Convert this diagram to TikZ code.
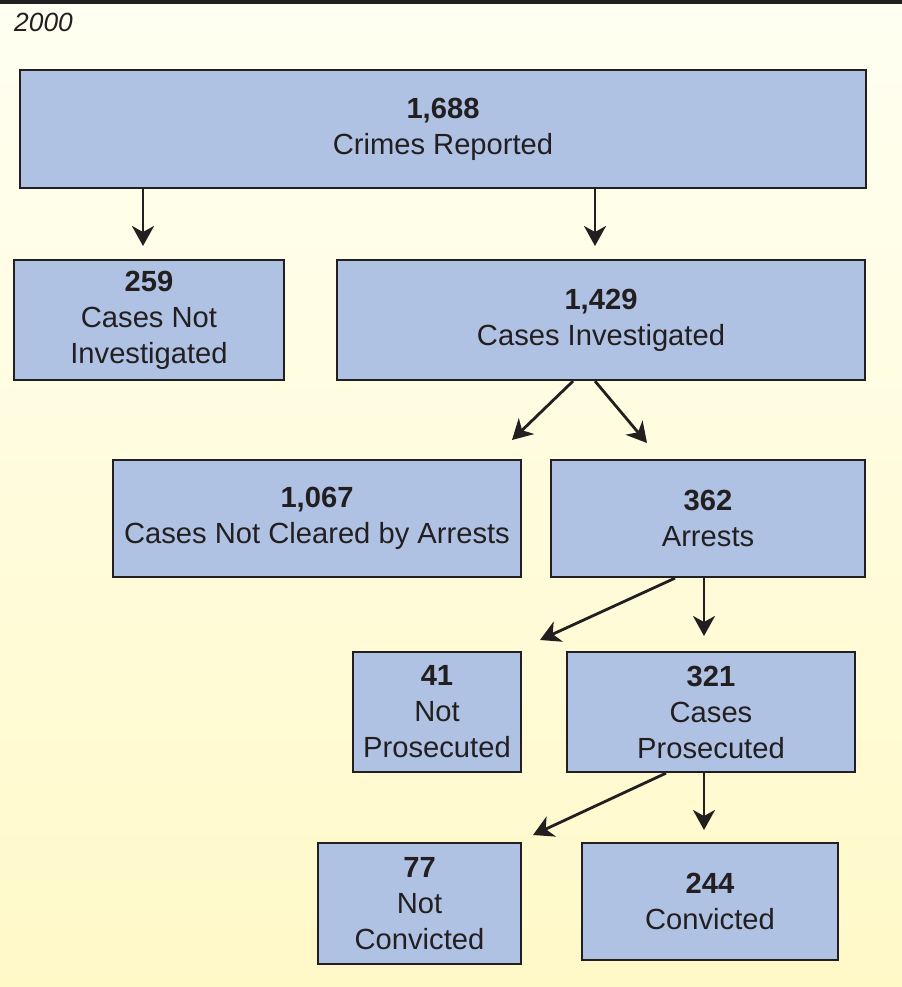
\documentclass[tikz,border=0pt]{standalone}
\usepackage{fontspec}
\setmainfont{Liberation Sans}
\usetikzlibrary{positioning,calc,arrows.meta}

\definecolor{boxblue}{HTML}{AFC2E4}
\definecolor{ink}{HTML}{231F20}
\definecolor{paper}{HTML}{FFFFF2}
\definecolor{cream}{HTML}{FFF9C8}

\begin{document}
\begin{tikzpicture}[x=0.02cm,y=-0.02cm]
	\tikzstyle{every node}=[text=ink,font=\fontsize{16.6}{20.5}\selectfont]
	\tikzstyle{box}=[draw=ink,line width=1.3pt,fill=boxblue,inner sep=0pt,align=center]
	\tikzstyle{every edge}=[draw=ink,line width=1.6pt,-{Stealth[length=4mm,width=4.4mm,inset=1.2mm]}]

	% background and top bar
	\shade[top color=paper,bottom color=cream] (0,0) rectangle (902,987);
	\useasboundingbox (0,0) rectangle (902,987);
	\fill[ink] (0,0) rectangle (902,4);
	\node[anchor=west,font=\fontsize{15}{18}\selectfont\itshape] (year) at (8,22) {2000};

	\node[box,minimum width=16.92cm,minimum height=2.36cm] (crimes) at (443,129) {\textbf{1,688}\\Crimes Reported};
	\node[box,minimum width=5.4cm,minimum height=2.4cm] (notinv) at (149,320) {\textbf{259}\\Cases Not\\Investigated};
	\node[box,minimum width=10.56cm,minimum height=2.4cm] (inv) at (601,320) {\textbf{1,429}\\Cases Investigated};
	\node[box,minimum width=8.16cm,minimum height=2.34cm] (notclr) at (317,518.5) {\textbf{1,067}\\Cases Not Cleared by Arrests};
	\node[box,minimum width=6.28cm,minimum height=2.34cm] (arrests) at (708,518.5) {\textbf{362}\\Arrests};
	\node[box,minimum width=3.36cm,minimum height=2.4cm] (notpros) at (437,712) {\textbf{41}\\Not\\Prosecuted};
	\node[box,minimum width=5.76cm,minimum height=2.4cm] (pros) at (711,712) {\textbf{321}\\Cases\\Prosecuted};
	\node[box,minimum width=4.06cm,minimum height=2.42cm] (notconv) at (419.5,903.5) {\textbf{77}\\Not\\Convicted};
	\node[box,minimum width=5.12cm,minimum height=2.34cm] (conv) at (710,901.5) {\textbf{244}\\Convicted};

	% arrow ends
	\coordinate (tonotinv) at (143,246);
	\coordinate (toinv) at (595,246);
	\coordinate (tonotclr) at (512,440);
	\coordinate (toarrests) at (647,443);
	\coordinate (tonotpros) at (540,640);
	\coordinate (topros) at (704,636);
	\coordinate (tonotconv) at (533,835);
	\coordinate (toconv) at (704,830);

	\draw (crimes.south -| tonotinv) edge (tonotinv);
	\draw (crimes.south -| toinv) edge (toinv);
	\draw ([xshift=-0.56cm]inv.south) edge (tonotclr);
	\draw ([xshift=-0.12cm]inv.south) edge (toarrests);
	\draw ([xshift=-0.66cm]arrests.south) edge (tonotpros);
	\draw (arrests.south -| topros) edge (topros);
	\draw ([xshift=-0.9cm]pros.south) edge (tonotconv);
	\draw (pros.south -| toconv) edge (toconv);
\end{tikzpicture}
\end{document}
